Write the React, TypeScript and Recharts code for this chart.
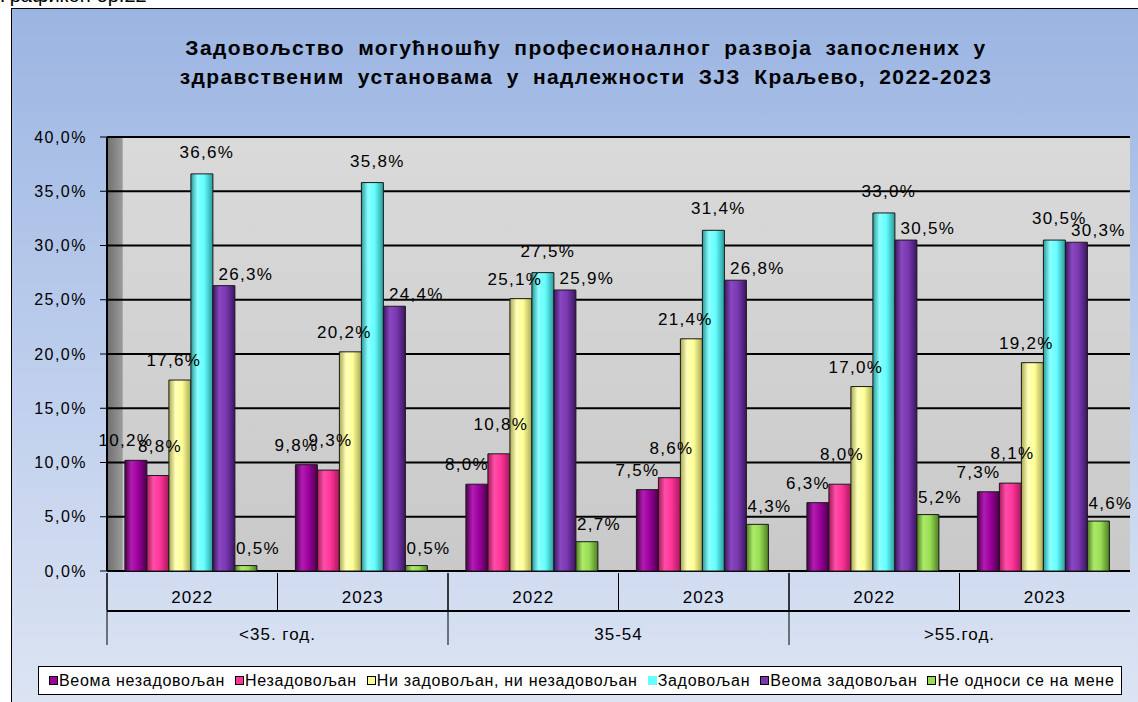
import { Bar, BarChart, CartesianGrid, LabelList, XAxis, YAxis } from "recharts";

// categories
const years = ["2022", "2023", "2022", "2023", "2022", "2023"];
const ageGroups = ["<35. год.", "", "35-54", "", ">55.год.", ""];

// series values (%)
const veomaNezadovoljan = [10.2, 9.8, 8.0, 7.5, 6.3, 7.3];
const nezadovoljan = [8.8, 9.3, 10.8, 8.6, 8.0, 8.1];
const niNi = [17.6, 20.2, 25.1, 21.4, 17.0, 19.2];
const zadovoljan = [36.6, 35.8, 27.5, 31.4, 33.0, 30.5];
const veomaZadovoljan = [26.3, 24.4, 25.9, 26.8, 30.5, 30.3];
const neOdnosiSe = [0.5, 0.5, 2.7, 4.3, 5.2, 4.6];

const yTicks = [0, 5, 10, 15, 20, 25, 30, 35, 40];

// label nudges mimic the hand-placed labels of the original
const series = [
  { key: "vn", name: "Веома незадовољан", values: veomaNezadovoljan, color: "#9C009C", dark: "#4a004a", light: "#b21cb2", lx: -10, ly: 14 },
  { key: "n", name: "Незадовољан", values: nezadovoljan, color: "#FF3399", dark: "#a8195e", light: "#ff4fa8", lx: 2, ly: 24 },
  { key: "nn", name: "Ни задовољан, ни незадовољан", values: niNi, color: "#FFFF99", dark: "#a8a855", light: "#ffffb8", lx: -6, ly: 14 },
  { key: "z", name: "Задовољан", values: zadovoljan, color: "#66FFFF", dark: "#2a9a9a", light: "#8affff", lx: 5, ly: 16 },
  { key: "vz", name: "Веома задовољан", values: veomaZadovoljan, color: "#7A38B0", dark: "#3a1660", light: "#8a48c0", lx: 22, ly: 6 },
  { key: "no", name: "Не односи се на мене", values: neOdnosiSe, color: "#99DD55", dark: "#4f7f22", light: "#acea6a", lx: 12, ly: 12 },
];

const data = years.map((year, i) => {
  const row: Record<string, string | number> = { year, group: ageGroups[i] };
  series.forEach((s) => (row[s.key] = s.values[i]));
  return row;
});

const FONT = "'Liberation Sans', Arial, sans-serif";
const W = 1138;
const H = 702;
const PLOT_LEFT = 107;
const PLOT_RIGHT = 1130;
const PLOT_TOP = 137;
const PLOT_BOTTOM = 571;
const BAND = (PLOT_RIGHT - PLOT_LEFT) / years.length;

const fmt = (v: number) => v.toFixed(1).replace(".", ",") + "%";

const YearTick = (props: any) => {
  const { x, payload } = props;
  return (
    <g>
      <line x1={x - BAND / 2} x2={x - BAND / 2} y1={PLOT_BOTTOM + 2} y2={PLOT_BOTTOM + 39} stroke="#000" />
      <text x={x} y={PLOT_BOTTOM + 32} textAnchor="middle" fontSize={17} fontFamily={FONT} fill="#000" style={{ letterSpacing: 1 }}>
        {payload.value}
      </text>
    </g>
  );
};

const GroupTick = (props: any) => {
  const { x, payload } = props;
  if (!payload.value) return <g />;
  return (
    <g>
      <line x1={x - BAND / 2} x2={x - BAND / 2} y1={PLOT_BOTTOM + 2} y2={PLOT_BOTTOM + 74} stroke="#000" />
      <text x={x + BAND / 2} y={PLOT_BOTTOM + 69} textAnchor="middle" fontSize={17} fontFamily={FONT} fill="#000" style={{ letterSpacing: 1 }}>
        {payload.value}
      </text>
    </g>
  );
};

const makeLabel = (lx: number, ly: number) => (p: any) => {
  const { x, y, width, value } = p;
  return (
    <text
      x={Number(x) + Number(width) / 2 + lx}
      y={Number(y) - ly}
      textAnchor="middle"
      fontSize={17}
      fontFamily={FONT}
      fill="#000"
      style={{ letterSpacing: 1.3 }}
    >
      {fmt(Number(value))}
    </text>
  );
};

export default function App() {
  return (
    <div style={{ position: "absolute", left: 0, top: 0, width: W, height: H, overflow: "hidden", background: "#fff", fontFamily: FONT }}>
      <div style={{ position: "absolute", left: 0, top: -15, fontSize: 20, lineHeight: "20px", color: "#000" }}>Графикон бр.22</div>
      <div
        style={{
          position: "absolute",
          left: 11,
          top: 8,
          width: W - 11,
          height: H - 8,
          borderLeft: "1px solid #000",
          borderTop: "1px solid #000",
          boxSizing: "border-box",
          background: "linear-gradient(to bottom, #9bb5e2 0%, #b9cbeb 45%, #dce4f3 100%)",
        }}
      />
      <div
        style={{
          position: "absolute",
          left: 36,
          top: 33,
          width: 1100,
          textAlign: "center",
          fontSize: 21,
          fontWeight: "bold",
          lineHeight: "29px",
          letterSpacing: 1.4,
          wordSpacing: 6,
          color: "#000",
        }}
      >
        Задовољство могућношћу професионалног развоја запослених у
        <br />
        здравственим установама у надлежности ЗЈЗ Краљево, 2022-2023
      </div>

      <div style={{ position: "absolute", left: 0, top: 0 }}>
        <BarChart
          width={W}
          height={H}
          data={data}
          margin={{ top: PLOT_TOP, right: W - PLOT_RIGHT, left: PLOT_LEFT - 80, bottom: H - PLOT_BOTTOM - 80 }}
          barCategoryGap="10.5%"
          barGap={0}
        >
          <defs>
            <linearGradient id="wall" x1="0" y1="0" x2="0" y2="1">
              <stop offset="0%" stopColor="#dadada" />
              <stop offset="100%" stopColor="#c9c9c9" />
            </linearGradient>
            <linearGradient id="sideWall" x1="0" y1="0" x2="1" y2="0">
              <stop offset="0%" stopColor="#6f6f6f" stopOpacity={1} />
              <stop offset="1.5%" stopColor="#9a9a9a" stopOpacity={1} />
              <stop offset="1.55%" stopColor="#9a9a9a" stopOpacity={0} />
              <stop offset="100%" stopColor="#9a9a9a" stopOpacity={0} />
            </linearGradient>
            {series.map((s) => (
              <linearGradient key={s.key} id={`g-${s.key}`} x1="0" y1="0" x2="1" y2="0">
                <stop offset="0%" stopColor={s.dark} />
                <stop offset="30%" stopColor={s.light} />
                <stop offset="60%" stopColor={s.color} />
                <stop offset="100%" stopColor={s.dark} />
              </linearGradient>
            ))}
          </defs>
          <CartesianGrid fill="url(#wall)" horizontal={false} vertical={false} />
          <CartesianGrid fill="url(#sideWall)" vertical={false} stroke="#000" strokeWidth={2} strokeDasharray="" />
          <XAxis
            xAxisId="yr"
            dataKey="year"
            height={40}
            interval={0}
            axisLine={{ stroke: "#000", strokeWidth: 2 }}
            tickLine={false}
            tick={<YearTick />}
          />
          <XAxis xAxisId="grp" dataKey="group" height={40} interval={0} axisLine={false} tickLine={false} tick={<GroupTick />} />
          <YAxis
            width={80}
            domain={[0, 40]}
            ticks={yTicks}
            interval={0}
            tickFormatter={fmt}
            axisLine={{ stroke: "#000", strokeWidth: 2 }}
            tickLine={{ stroke: "#000" }}
            tickSize={7}
            tickMargin={13}
            tick={{ fontSize: 16, fill: "#000", fontFamily: FONT, style: { letterSpacing: 1.5 } }}
          />
          {series.map((s) => (
            <Bar
              key={s.key}
              xAxisId="yr"
              dataKey={s.key}
              name={s.name}
              fill={`url(#g-${s.key})`}
              stroke="#1a1a1a"
              strokeWidth={1}
              isAnimationActive={false}
            >
              <LabelList dataKey={s.key} content={makeLabel(s.lx, s.ly)} />
            </Bar>
          ))}
        </BarChart>
      </div>

      <div
        style={{
          position: "absolute",
          left: 38,
          top: 666,
          width: 1084,
          height: 29,
          boxSizing: "border-box",
          border: "1px solid #000",
          background: "#fff",
          display: "flex",
          alignItems: "center",
          paddingLeft: 10,
          fontSize: 16,
          letterSpacing: 0.7,
          color: "#000",
          whiteSpace: "nowrap",
        }}
      >
        {series.map((s) => (
          <span key={s.key} style={{ display: "inline-flex", alignItems: "center", marginRight: 10 }}>
            <span
              style={{
                display: "inline-block",
                width: 7,
                height: 7,
                background: s.color,
                border: s.key === "z" ? "1px solid " + s.color : "1px solid #000",
                marginRight: 1,
              }}
            />
            {s.name}
          </span>
        ))}
      </div>
    </div>
  );
}
